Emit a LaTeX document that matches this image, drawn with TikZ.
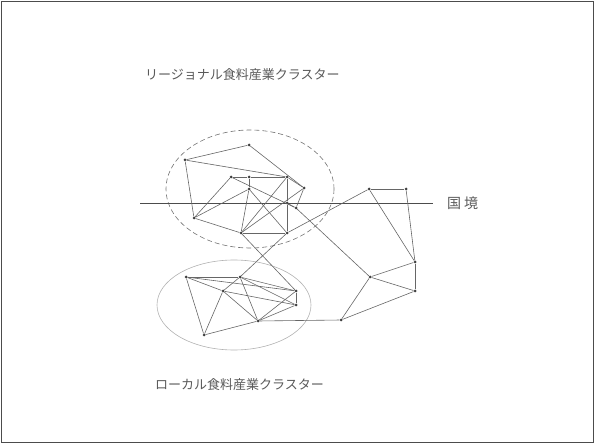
\documentclass[tikz,border=0pt]{standalone}
\usepackage{fontspec}
\newfontfamily\jp{Noto Sans CJK JP}
\begin{document}
\begin{tikzpicture}[x=1pt,y=-1pt,
  dot/.style={circle,fill=black!75,inner sep=0pt,minimum size=3pt},
  edge/.style={draw=black!60,line width=0.6pt},
  lbl/.style={text=black!65,font=\jp\fontsize{13}{13}\selectfont,inner sep=0pt}]
\useasboundingbox (0,0) rectangle (594,443);
\draw[black!70,line width=0.6pt] (1,1) rectangle (593,442);
% ellipses
\draw[black!55,dashed,dash pattern=on 5pt off 3pt,line width=0.6pt] (250,189) ellipse [x radius=84,y radius=59];
\draw[black!30,line width=0.6pt] (234,305) ellipse [x radius=77,y radius=45];
% border line
\coordinate (bl) at (140,203);
\coordinate (br) at (433,203);
\draw[black!70,line width=0.7pt] (bl) -- (br);
% upper cluster
\node[dot] (A) at (249,145) {};
\node[dot] (B) at (185,160) {};
\node[dot] (C) at (231,177) {};
\node[dot] (D) at (249,177) {};
\node[dot] (E) at (287,177) {};
\node[dot] (F) at (249,189) {};
\node[dot] (G) at (304,188) {};
\node[dot] (H) at (287,203) {};
\node[dot] (I) at (296,208) {};
\node[dot] (J) at (194,218) {};
\node[dot] (K) at (241,233) {};
\node[dot] (L) at (287,233) {};
% right group
\node[dot] (P) at (369,189) {};
\node[dot] (P2) at (406,189) {};
\node[dot] (N) at (370,277) {};
\node[dot] (Y) at (415,262) {};
\node[dot] (Z) at (415,291) {};
\node[dot] (X) at (341,320) {};
% lower cluster
\node[dot] (R) at (186,277) {};
\node[dot] (M) at (240,277) {};
\node[dot] (S) at (223,291) {};
\node[dot] (Q) at (296,291) {};
\node[dot] (U) at (296,305) {};
\node[dot] (V) at (258,321) {};
\node[dot] (W) at (204,335) {};
% edges upper
\foreach \a/\b in {A/B,A/G,B/E,B/J,C/D,D/E,D/F,F/K,E/H,H/L,K/L,J/C,J/F,J/K,C/I,F/L,K/E,K/G,G/I,H/I,E/G}
  \draw[edge] (\a) -- (\b);
% edges right
\foreach \a/\b in {P/P2,P2/Y,P/Y,Y/Z,N/Y,N/Z,N/X,X/Z,I/N,L/P}
  \draw[edge] (\a) -- (\b);
% edges lower
\foreach \a/\b in {R/M,R/Q,R/W,R/S,S/U,M/S,W/S,M/V,M/Q,M/U,S/V,W/V,V/U,V/Q,Q/U,V/X,K/Q,L/M}
  \draw[edge] (\a) -- (\b);
% labels
\node[lbl,anchor=west] (t1) at (145,75) {リージョナル食料産業クラスター};
\node[lbl,anchor=west] (t2) at (155,385) {ローカル食料産業クラスター};
\node[lbl,anchor=west,font=\jp\fontsize{14}{14}\selectfont] (t3) at (447,203) {国\hspace{3pt}境};
\end{tikzpicture}
\end{document}
